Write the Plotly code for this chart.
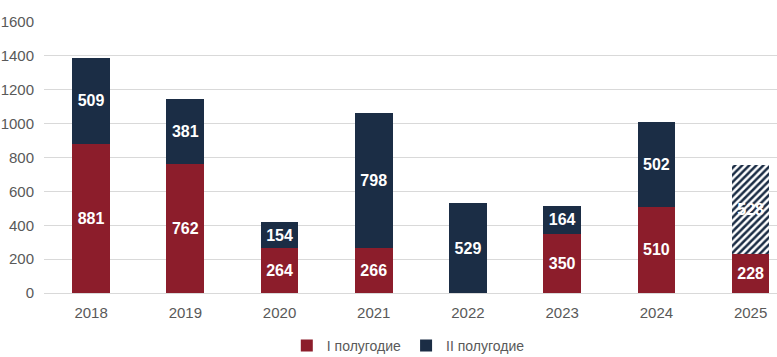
import plotly.graph_objects as go

years = ["2018", "2019", "2020", "2021", "2022", "2023", "2024", "2025"]
h1 = [881, 762, 264, 266, 0, 350, 510, 228]
h2 = [509, 381, 154, 798, 529, 164, 502, 528]
h2_forecast = [False, False, False, False, False, False, False, True]
y_ticks = [0, 200, 400, 600, 800, 1000, 1200, 1400, 1600]

RED = "#8C1D2B"
NAVY = "#1B2D45"

fig = go.Figure()
fig.add_trace(go.Bar(
    x=years, y=h1, name="I полугодие",
    marker=dict(color=RED, line=dict(width=0)),
    text=[str(v) if v else "" for v in h1],
    textposition="inside", insidetextanchor="middle",
    textfont=dict(color="white", size=16, family="Liberation Sans", weight="bold"),
    width=0.4,
))
fig.add_trace(go.Bar(
    x=years, y=h2, name="II полугодие",
    marker=dict(
        color=NAVY, line=dict(width=0),
        pattern=dict(
            shape=["/" if f else "" for f in h2_forecast],
            fgcolor=NAVY, bgcolor="white", size=5, solidity=0.5,
            fillmode="replace",
        ),
    ),
    text=[str(v) if v else "" for v in h2],
    textposition="inside", insidetextanchor="middle",
    textfont=dict(color="white", size=16, family="Liberation Sans", weight="bold"),
    width=0.4,
))

fig.update_layout(
    barmode="stack",
    width=777, height=357,
    margin=dict(l=44, r=0, t=22, b=64, autoexpand=False),
    paper_bgcolor="white", plot_bgcolor="white",
    font=dict(family="Liberation Sans", color="#595959", size=14),
    showlegend=True,
    legend=dict(orientation="h", x=0.497, xanchor="center",
                yref="container", y=0.031, yanchor="middle",
                font=dict(size=14, color="#595959"), traceorder="normal",
                itemwidth=30),
)
fig.update_xaxes(range=[-0.5, 7.28], showgrid=False, showline=False, ticks="",
                 automargin=False, ticklabelstandoff=9,
                 tickfont=dict(size=15, color="#595959"))
fig.update_yaxes(range=[0, 1600], tickvals=y_ticks, showgrid=True, gridcolor="#D9D9D9",
                 gridwidth=1, zeroline=True, zerolinecolor="#D9D9D9", zerolinewidth=1,
                 automargin=False, ticks="", ticklabelstandoff=9,
                 tickfont=dict(size=15, color="#595959"))

fig.write_html("out.html",
               config={"displayModeBar": False},
               post_script="document.body.style.margin='0';document.body.style.overflow='hidden';")
